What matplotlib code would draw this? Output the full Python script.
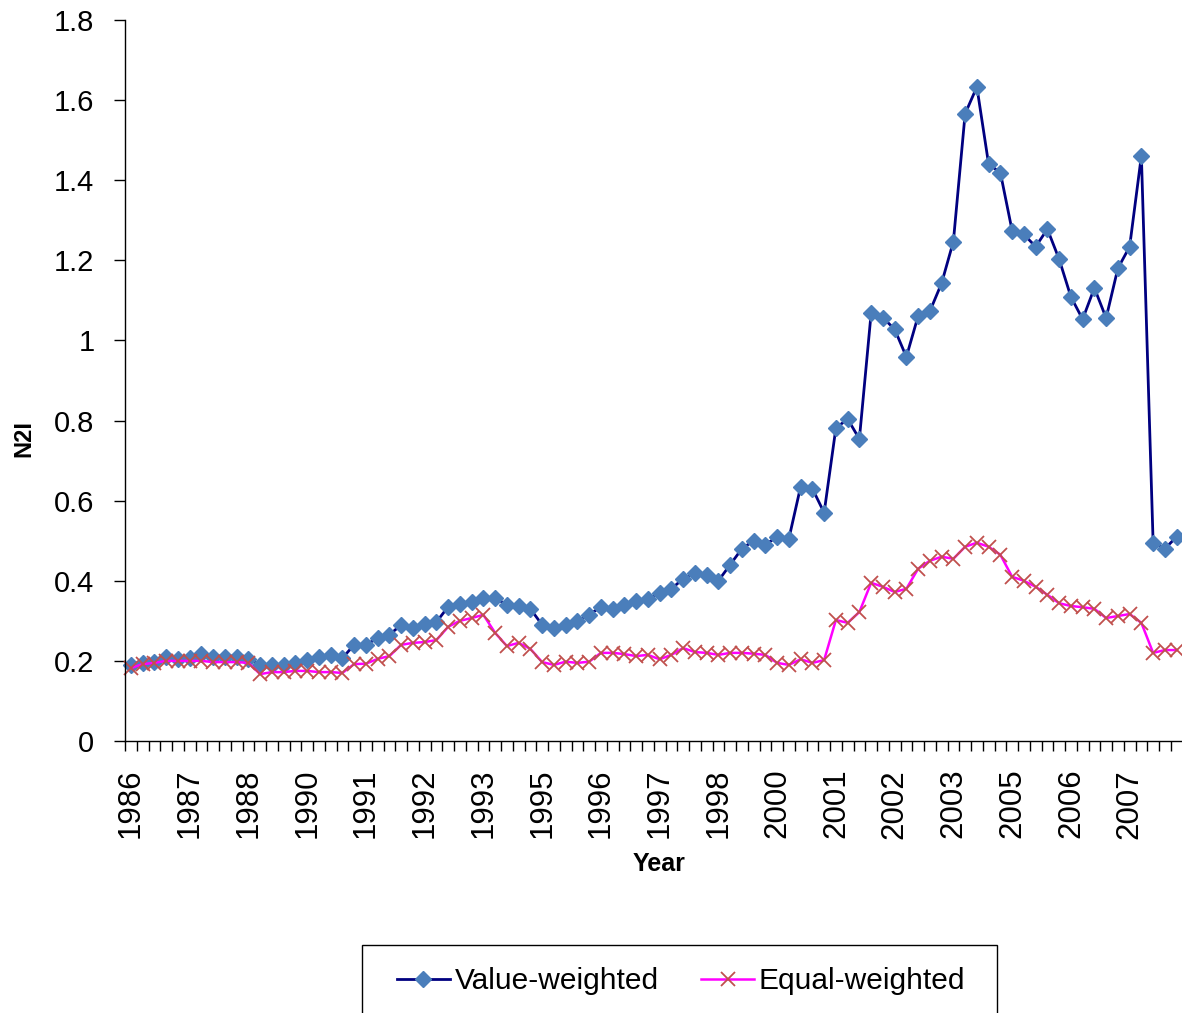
import matplotlib

matplotlib.use("Agg")
import matplotlib.pyplot as plt
import numpy as np
from matplotlib.patches import Rectangle

plt.rcParams["font.family"] = ["Liberation Sans", "DejaVu Sans"]

# quarterly observations, labelled every 5th quarter on the category axis
year_labels = [
    "1986", "1987", "1988", "1990", "1991", "1992", "1993", "1995", "1996",
    "1997", "1998", "2000", "2001", "2002", "2003", "2005", "2006", "2007",
]

value_weighted = [
    0.190, 0.195, 0.198, 0.210, 0.205, 0.207, 0.217, 0.210, 0.210, 0.210,
    0.205, 0.190, 0.190, 0.190, 0.195, 0.202, 0.210, 0.215, 0.207, 0.240,
    0.240, 0.257, 0.265, 0.290, 0.282, 0.292, 0.297, 0.335, 0.342, 0.347,
    0.357, 0.357, 0.340, 0.338, 0.330, 0.290, 0.283, 0.290, 0.300, 0.315,
    0.335, 0.330, 0.340, 0.350, 0.355, 0.370, 0.380, 0.405, 0.420, 0.415,
    0.400, 0.440, 0.480, 0.500, 0.490, 0.510, 0.505, 0.635, 0.630, 0.570,
    0.781, 0.804, 0.754, 1.068, 1.057, 1.028, 0.959, 1.061, 1.073, 1.143,
    1.247, 1.566, 1.633, 1.440, 1.419, 1.274, 1.265, 1.234, 1.278, 1.203,
    1.109, 1.053, 1.131, 1.056, 1.180, 1.234, 1.461, 0.495, 0.480, 0.510,
]

equal_weighted = [
    0.182, 0.192, 0.195, 0.200, 0.200, 0.200, 0.200, 0.197, 0.197, 0.197,
    0.195, 0.167, 0.172, 0.172, 0.175, 0.175, 0.172, 0.172, 0.170, 0.192,
    0.193, 0.205, 0.212, 0.240, 0.245, 0.247, 0.252, 0.285, 0.300, 0.307,
    0.315, 0.270, 0.237, 0.245, 0.230, 0.197, 0.190, 0.198, 0.195, 0.198,
    0.220, 0.220, 0.217, 0.212, 0.215, 0.204, 0.215, 0.232, 0.222, 0.220,
    0.215, 0.220, 0.220, 0.218, 0.215, 0.195, 0.190, 0.204, 0.195, 0.202,
    0.302, 0.295, 0.322, 0.395, 0.385, 0.372, 0.380, 0.430, 0.450, 0.460,
    0.455, 0.485, 0.495, 0.485, 0.465, 0.410, 0.400, 0.385, 0.365, 0.344,
    0.337, 0.334, 0.330, 0.307, 0.312, 0.317, 0.295, 0.220, 0.227, 0.227,
]

positions = np.arange(len(value_weighted))

figure = plt.figure(figsize=(11.82, 10.13), dpi=100)
axis = figure.add_axes([125 / 1182, 1 - 741 / 1013, 1057.5 / 1182, 721 / 1013])

axis.plot(positions, value_weighted, color="#000080", linewidth=2,
          marker="D", markersize=8, markerfacecolor="#4A7EBB",
          markeredgecolor="#4A7EBB", label="Value-weighted", clip_on=False)
axis.plot(positions, equal_weighted, color="#FF00FF", linewidth=1.8,
          marker="x", markersize=9.6, markeredgewidth=1.3,
          markeredgecolor="#C0504D", label="Equal-weighted", clip_on=False)

axis.set_xlim(-0.5, len(value_weighted) - 0.5)
axis.set_ylim(0, 1.8)
axis.set_yticks(np.arange(0, 1.81, 0.2))
axis.set_yticklabels(["0", "0.2", "0.4", "0.6", "0.8", "1", "1.2", "1.4", "1.6", "1.8"])

axis.set_xticks(positions[::5][: len(year_labels)])
axis.set_xticklabels(year_labels, rotation=90)
axis.set_xticks(np.arange(-0.5, len(value_weighted), 1), minor=True)
axis.tick_params(axis="x", which="major", length=0, pad=20, labelsize=22.5)
axis.tick_params(axis="x", which="minor", length=7, width=1, direction="out")
axis.tick_params(axis="y", length=8, width=1, direction="out", pad=14, labelsize=21)

for side in ("top", "right"):
    axis.spines[side].set_visible(False)
for side in ("left", "bottom"):
    axis.spines[side].set_color("black")
    axis.spines[side].set_linewidth(1)

axis.set_xlabel("Year", fontsize=18, fontweight="bold", va="center")
axis.xaxis.set_label_coords(0.505, -0.1706)
axis.set_ylabel("N2I", fontsize=17, fontweight="bold", va="center")
axis.yaxis.set_label_coords(-0.0955, 0.419)

axis.legend(loc="center", bbox_to_anchor=(681 / 1182, 1 - 981 / 1013),
            bbox_transform=figure.transFigure, ncol=2, frameon=False,
            fontsize=21.5, handlelength=1.8, handletextpad=0.15,
            columnspacing=1.4, numpoints=1)
figure.patches.append(Rectangle((362 / 1182, -0.02), 635 / 1182, (1013 - 945) / 1013 + 0.02,
                                transform=figure.transFigure, fill=False,
                                edgecolor="black", linewidth=1))

figure.savefig("out.png", dpi=100)
plt.close(figure)
